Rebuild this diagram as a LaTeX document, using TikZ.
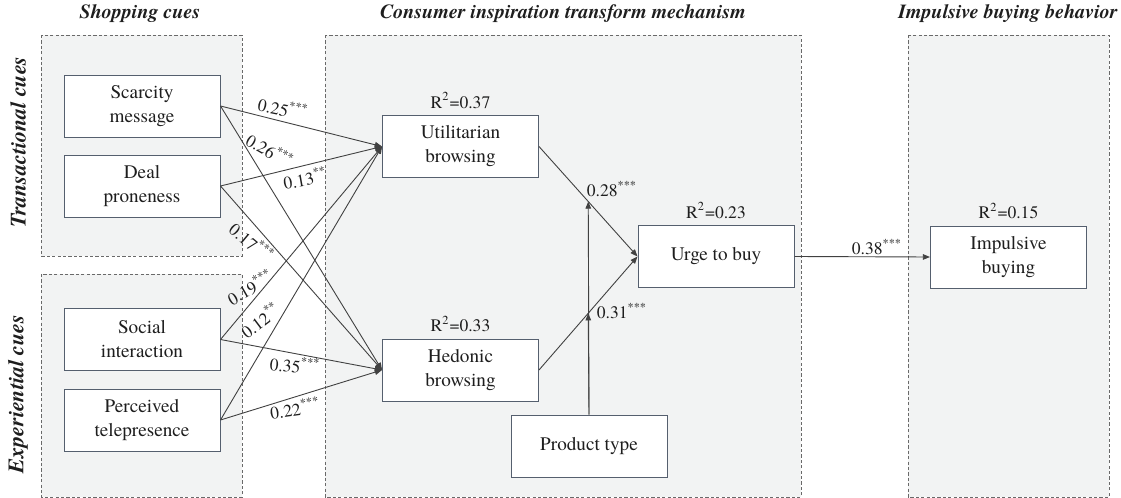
\documentclass[tikz,border=0pt]{standalone}
\usepackage{fontspec}
\setmainfont{texgyretermes}[Extension=.otf,UprightFont=*-regular,BoldFont=*-bold,
  ItalicFont=*-italic,BoldItalicFont=*-bolditalic]
\usetikzlibrary{arrows.meta,calc}

\definecolor{grpfill}{RGB}{242,243,243}
\definecolor{grpline}{RGB}{105,105,105}
\definecolor{boxline}{RGB}{85,95,110}
\definecolor{arrline}{RGB}{65,65,65}
\definecolor{txt}{RGB}{30,30,30}

\begin{document}
\begin{tikzpicture}[x=0.5pt,y=-0.5pt,
    grp/.style={draw=grpline,fill=grpfill,dash pattern=on 1.6pt off 1.1pt,line width=0.4pt},
    var/.style={draw=boxline,fill=white,line width=0.5pt,minimum width=78pt,minimum height=31pt,
      inner sep=1pt,align=center,text=txt,font=\fontsize{9.6}{12}\selectfont},
    path/.style={draw=arrline,line width=0.45pt,-{Triangle[length=3.6pt,width=2.8pt]}},
    coef/.style={text=txt,inner sep=0pt,font=\fontsize{8.8}{10}\selectfont},
    head/.style={text=txt,font=\fontsize{10}{12}\selectfont\bfseries\itshape}]
    \useasboundingbox (0,0) rectangle (1121,498);

    % groups
    \draw[grp] (41,35) rectangle (242,256);
    \draw[grp] (41,274) rectangle (242,497);
    \draw[grp] (325,35) rectangle (801,497);
    \draw[grp] (908,35) rectangle (1109,497);

    \node[head] (tshop) at (140,14) {Shopping cues};
    \node[head] (tmech) at (563,14) {Consumer inspiration transform mechanism};
    \node[head] (tbeh) at (1008,14) {Impulsive buying behavior};
    \node[head,rotate=90,font=\fontsize{11}{12}\selectfont\bfseries\itshape] (ttra) at (18,142) {Transactional cues};
    \node[head,rotate=90,font=\fontsize{11}{12}\selectfont\bfseries\itshape] (texp) at (18,394) {Experiential cues};

    % variables
    \node[var] (sca) at (142,106) {Scarcity\\message};
    \node[var] (deal) at (142,186) {Deal\\proneness};
    \node[var] (soc) at (142,339.5) {Social\\interaction};
    \node[var] (tele) at (142,420) {Perceived\\telepresence};
    \node[var] (util) at (460.5,146.5) {Utilitarian\\browsing};
    \node[var] (hed) at (460.5,370) {Hedonic\\browsing};
    \node[var] (urge) at (716,256.5) {Urge to buy};
    \node[var] (imp) at (1008.5,257) {Impulsive\\buying};
    \node[var] (prod) at (589,446) {Product type};

    \node[coef,above=3pt] (r2util) at (util.north) {R\textsuperscript{2}=0.37};
    \node[coef,above=3pt] (r2hed) at (hed.north) {R\textsuperscript{2}=0.33};
    \node[coef,above=3pt] (r2urge) at (urge.north) {R\textsuperscript{2}=0.23};
    \node[coef,above=3pt] (r2imp) at (imp.north) {R\textsuperscript{2}=0.15};

    % paths
    \foreach \s in {sca,deal,soc,tele}{
        \draw[path] (\s.east) -- (util.west);
        \draw[path] (\s.east) -- (hed.west);
    }
    \draw[path] (util.east) -- (urge.west);
    \draw[path] (hed.east) -- (urge.west);
    \draw[path] (urge.east) -- (imp.west);

    \coordinate (modu) at ($(util.east)!0.5!(urge.west)$);
    \coordinate (modh) at ($(hed.east)!0.5!(urge.west)$);
    \draw[path] (prod.north) -- (modh);
    \draw[path] (prod.north) -- (modu);

    % coefficients
    \node[coef,rotate=-12] (c1) at (283,108) {0.25\textsuperscript{***}};
    \node[coef,rotate=-30] (c2) at (270,150) {0.26\textsuperscript{***}};
    \node[coef,rotate=10] (c3) at (305,178) {0.13\textsuperscript{**}};
    \node[coef,rotate=-40] (c4) at (252,242) {0.17\textsuperscript{***}};
    \node[coef,rotate=30] (c5) at (250,287) {0.19\textsuperscript{***}};
    \node[coef,rotate=37] (c6) at (260,320) {0.12\textsuperscript{**}};
    \node[coef,rotate=-5] (c7) at (295,365) {0.35\textsuperscript{***}};
    \node[coef,rotate=8] (c8) at (295,408) {0.22\textsuperscript{***}};
    \node[coef] (c9) at (612,189) {0.28\textsuperscript{***}};
    \node[coef] (c10) at (622,311) {0.31\textsuperscript{***}};
    \node[coef] (c11) at (877,247) {0.38\textsuperscript{***}};
\end{tikzpicture}
\end{document}
